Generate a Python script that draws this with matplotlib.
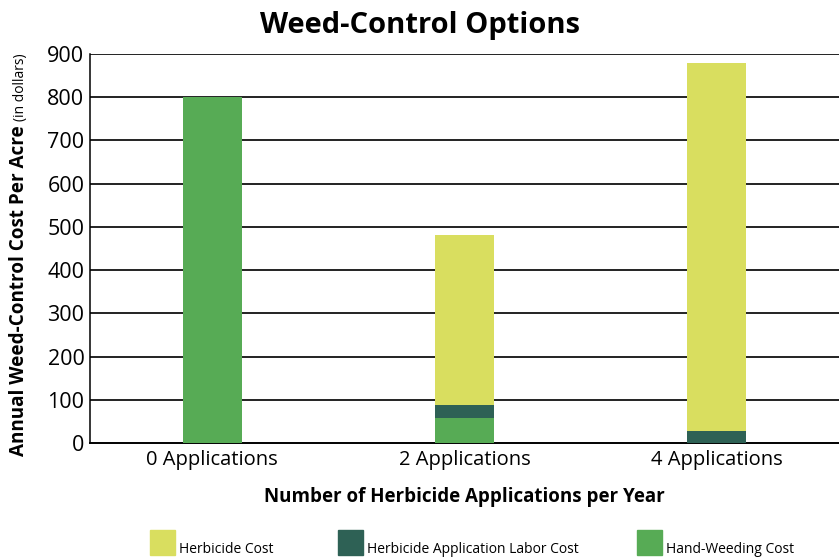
import matplotlib
matplotlib.use("Agg")
from matplotlib import pyplot as plt
from matplotlib.patches import Rectangle
import numpy as np

categories = ["0 Applications", "2 Applications", "4 Applications"]
hand_weeding = [800, 58, 0]
labor = [0, 30, 28]
herbicide = [0, 393, 852]
series_names = ["Herbicide Cost", "Herbicide Application Labor Cost", "Hand-Weeding Cost"]
yticks = [0, 100, 200, 300, 400, 500, 600, 700, 800, 900]

c_herb = '#d9de5f'
c_labor = '#2e6155'
c_hand = '#57ab55'

plt.rcParams['font.family'] = ['Open Sans', 'DejaVu Sans']

W, H = 839, 557
fig = plt.figure(figsize=(W / 100, H / 100), dpi=100)
ax = fig.add_axes([90 / W, (H - 443) / H, (W - 90) / W, (443 - 54) / H])

x = np.arange(len(categories))
hand = np.array(hand_weeding)
lab = np.array(labor)
herb = np.array(herbicide)
w = 0.234
ax.bar(x, hand, w, color=c_hand, zorder=3)
ax.bar(x, lab, w, bottom=hand, color=c_labor, zorder=3)
ax.bar(x, herb, w, bottom=hand + lab, color=c_herb, zorder=3)

ax.set_xlim(-0.484, 2.484)
ax.set_ylim(0, 900)
ax.set_yticks(yticks)
ax.set_yticklabels([str(v) for v in yticks], fontsize=15.5)
ax.set_xticks(x)
ax.set_xticklabels(categories, fontsize=14.5)
ax.tick_params(length=0, pad=4)
ax.tick_params(axis='x', pad=5)
for v in yticks[1:]:
    ax.axhline(v, color='#111111', lw=1.3, zorder=1)
for s in ['top', 'right']:
    ax.spines[s].set_visible(False)
ax.spines['left'].set_linewidth(1.1)
ax.spines['bottom'].set_linewidth(1.4)

ax.set_xlabel('Number of Herbicide Applications per Year', fontsize=13.5,
              fontweight='bold', labelpad=12)

fig.text(0.5, (H - 25) / H, 'Weed-Control Options', ha='center', va='center',
         fontsize=21, fontweight='bold')

# y label: bold main part + smaller note
yx = 24 / W
y0 = (H - 456) / H
t1 = fig.text(yx, y0, 'Annual Weed-Control Cost Per Acre', rotation=90,
              rotation_mode='anchor', ha='left', va='baseline',
              fontsize=13.6, fontweight='bold')
fig.canvas.draw()
bb = t1.get_window_extent(fig.canvas.get_renderer())
fig.text(yx, (bb.y1 + 4) / H, '(in dollars)', rotation=90,
         rotation_mode='anchor', ha='left', va='baseline', fontsize=10)

# legend drawn by hand along the bottom
leg_font = ['Open Sans', 'DejaVu Sans']
leg_x = [150, 338, 637]
leg_cols = [c_herb, c_labor, c_hand]
for lx, col, name in zip(leg_x, leg_cols, series_names):
    fig.add_artist(Rectangle((lx / W, (H - 555) / H), 25 / W, 25 / H,
                             transform=fig.transFigure, color=col))
    fig.text((lx + 29) / W, (H - 553) / H, name, ha='left', va='baseline',
             fontsize=10, family=leg_font)

fig.savefig('out.png', dpi=100)
